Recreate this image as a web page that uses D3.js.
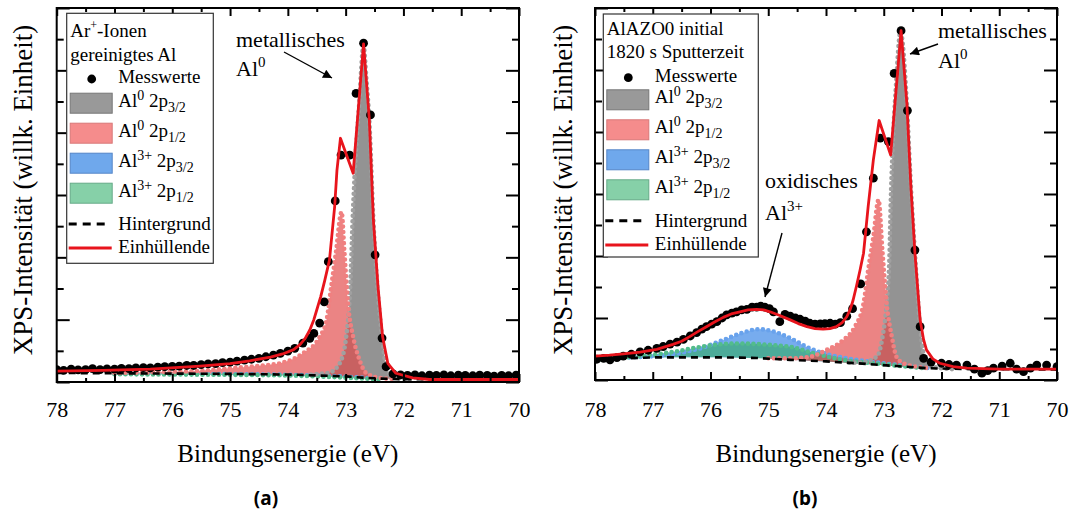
<!DOCTYPE html>
<html>
<head>
<meta charset="utf-8">
<script src="https://cdn.jsdelivr.net/npm/d3@7"></script>
<style>
body { margin: 0; background: #fff; }
svg { display: block; }
text { font-family: "Liberation Serif", "Times New Roman", serif; fill: #000; }
</style>
</head>
<body>
<svg width="1076" height="511"></svg>
<script>
// ---- data: [binding energy (eV), intensity (arb. units)] ----

// panel (a): Ar+-cleaned Al
var aMess = [[78.00,4.0],[77.88,3.7],[77.75,4.1],[77.63,3.9],[77.50,4.0],[77.38,4.3],[77.25,4.0],[77.13,4.2],
    [77.00,4.1],[76.88,4.4],[76.75,4.3],[76.63,4.5],[76.50,4.6],[76.38,4.5],[76.25,4.8],[76.13,4.9],
    [76.00,5.0],[75.88,5.1],[75.75,5.3],[75.63,5.3],[75.50,5.6],[75.38,5.8],[75.25,5.9],[75.13,6.2],
    [75.00,6.4],[74.88,6.7],[74.75,7.0],[74.63,7.3],[74.50,7.6],[74.38,8.1],[74.25,8.6],[74.13,9.2],
    [74.00,9.9],[73.88,10.8],[73.74,12.5],[73.62,14.0],[73.55,15.6],[73.45,18.9],[73.37,25.7],[73.30,38.6],
    [73.18,58.1],[73.08,72.8],[72.93,72.8],[72.82,92.6],[72.69,108.7],[72.57,85.7],[72.49,40.8],[72.37,14.1],
    [72.30,4.9],[72.18,2.6],[72.05,2.3],[71.93,2.1],[71.80,2.3],[71.68,2.0],[71.55,2.2],[71.43,2.1],
    [71.30,2.3],[71.18,2.0],[71.05,2.2],[70.93,2.1],[70.80,2.0],[70.68,2.2],[70.55,2.1],[70.43,1.9],
    [70.30,2.1],[70.18,2.0],[70.05,2.2]];
var aFit = [[78.00,3.5],[77.20,3.7],[76.38,4.1],[75.52,5.1],[75.00,5.9],[74.66,6.8],[74.30,8.0],[74.09,9.0],
    [73.90,10.4],[73.79,12.0],[73.70,14.0],[73.62,16.7],[73.55,20.0],[73.50,23.1],[73.43,27.5],[73.36,32.7],
    [73.28,39.1],[73.19,56.3],[73.15,68.0],[73.09,78.2],[72.87,67.0],[72.69,108.5],[72.59,84.1],[72.52,52.0],
    [72.44,30.6],[72.36,14.5],[72.27,6.0],[72.13,2.8],[71.84,1.3],[71.55,0.8],[70.00,0.8]];
var aBg = [[78.0,2.9],[77.0,2.8],[76.0,2.7],[75.0,2.6],[74.0,2.4],[73.5,2.1],[73.0,1.8],[72.7,1.4],
    [72.4,1.1],[72.0,0.9],[71.0,0.8],[70.0,0.8]];
var aAl0p32 = [[73.60,2.4],[73.40,2.7],[73.28,3.0],[73.10,6.1],[72.99,14.5],[72.92,30.6],[72.88,52.0],
    [72.84,68.0],[72.77,88.0],[72.69,108.0],[72.64,97.0],[72.59,84.0],[72.52,52.0],[72.45,30.5],
    [72.37,14.5],[72.30,4.9],[72.21,2.2],[72.00,1.0],[71.80,0.9]];
var aAl0p12 = [[77.00,2.9],[76.38,3.1],[75.52,3.6],[75.00,4.4],[74.50,5.2],[74.14,6.0],[73.74,9.2],
    [73.45,14.5],[73.33,19.9],[73.25,30.6],[73.17,41.3],[73.07,54.6],[73.02,41.4],[72.96,25.3],
    [72.87,14.5],[72.76,7.1],[72.64,2.8],[72.40,1.3],[72.20,1.0]];
var aAl3p32 = [[77.0,2.7],[76.0,2.6],[75.0,2.5],[74.0,2.3],[73.0,1.7],[72.4,1.0]];
var aAl3p12 = [[77.0,2.5],[76.0,2.4],[75.0,2.3],[74.0,2.1],[73.5,1.8],[73.0,1.4],[72.4,0.8]];

// panel (b): AlAZO0 initial, 1820 s sputter time
var bMess = [[77.97,6.7],[77.85,7.0],[77.74,6.5],[77.62,7.2],[77.51,7.7],[77.37,8.3],[77.22,9.1],[77.08,9.6],
    [76.93,10.2],[76.82,10.8],[76.70,11.6],[76.58,12.2],[76.47,13.1],[76.35,14.2],[76.24,15.3],[76.15,16.4],
    [76.07,17.2],[75.98,18.0],[75.89,18.8],[75.80,20.0],[75.72,21.0],[75.63,21.6],[75.55,22.0],[75.46,22.6],
    [75.37,22.8],[75.28,23.5],[75.20,23.5],[75.13,23.8],[75.06,23.5],[74.98,23.0],[74.91,22.0],[74.80,18.8],
    [74.71,21.2],[74.62,20.6],[74.53,20.0],[74.45,19.6],[74.36,19.0],[74.28,18.3],[74.19,18.0],[74.10,18.1],
    [74.02,18.2],[73.93,18.3],[73.84,18.0],[73.75,18.5],[73.64,20.6],[73.54,23.0],[73.40,31.0],[73.30,47.8],
    [73.18,65.1],[73.06,78.0],[72.92,76.9],[72.82,98.9],[72.70,112.7],[72.59,86.9],[72.46,41.9],[72.37,17.2],
    [72.31,7.0],[72.18,5.8],[72.00,5.4],[71.87,5.0],[71.74,4.8],[71.56,4.8],[71.43,3.5],[71.30,2.2],
    [71.20,3.0],[71.10,3.8],[70.95,4.5],[70.81,5.4],[70.70,3.5],[70.58,2.7],[70.46,3.8],[70.35,4.8],
    [70.18,4.8],[70.00,4.3]];
var bFit = [[78.00,7.7],[77.75,8.0],[77.51,8.4],[77.22,9.0],[76.93,9.9],[76.65,11.5],[76.50,12.5],[76.36,14.0],
    [76.22,15.6],[76.07,17.2],[75.93,18.7],[75.78,20.2],[75.64,21.3],[75.49,22.0],[75.35,22.6],[75.20,22.8],
    [75.08,22.6],[74.97,22.0],[74.80,20.8],[74.62,19.4],[74.48,18.2],[74.33,17.2],[74.19,16.6],[74.05,16.4],
    [73.93,16.6],[73.82,17.2],[73.72,18.5],[73.64,20.4],[73.58,22.8],[73.53,25.8],[73.47,30.5],[73.41,35.5],
    [73.35,40.9],[73.27,55.9],[73.18,71.0],[73.08,83.7],[72.88,72.6],[72.70,112.7],[72.60,89.3],[72.53,62.4],
    [72.46,40.9],[72.37,19.4],[72.31,13.0],[72.26,9.7],[72.15,6.8],[72.03,5.4],[71.80,4.3],[71.56,3.8],
    [71.00,3.5],[70.00,3.5]];
var bBg = [[78.00,6.5],[77.50,7.0],[76.93,7.3],[75.78,7.3],[75.20,7.1],[74.62,6.5],[74.00,6.0],[73.47,5.4],
    [72.78,4.5],[72.26,3.8],[71.50,3.5],[70.00,3.4]];
var bAl0p32 = [[73.60,5.6],[73.41,5.6],[73.12,7.5],[73.02,14.0],[72.95,24.7],[72.90,40.9],[72.88,57.0],
    [72.85,73.1],[72.79,94.6],[72.71,112.4],[72.60,89.3],[72.53,62.4],[72.46,40.9],[72.38,19.4],
    [72.31,8.6],[72.20,4.8],[72.00,3.8],[71.80,3.5]];
var bAl0p12 = [[75.00,7.0],[74.62,7.0],[74.28,7.5],[73.99,9.7],[73.70,12.9],[73.50,17.2],[73.35,24.7],
    [73.27,35.5],[73.18,46.2],[73.09,58.1],[73.02,40.9],[72.95,24.7],[72.86,14.0],[72.78,7.5],
    [72.66,5.4],[72.40,4.2],[72.20,3.8]];
var bAl3p32 = [[77.50,7.2],[77.22,7.4],[76.64,8.4],[76.18,10.2],[75.78,12.9],[75.45,15.2],[75.17,16.4],
    [74.90,15.6],[74.62,13.5],[74.28,10.2],[73.93,8.1],[73.47,6.5],[73.01,5.4],[72.60,4.5],[72.20,3.8]];
var bAl3p12 = [[78.00,6.6],[77.74,7.0],[77.22,7.7],[76.64,9.1],[76.20,10.6],[75.90,11.4],[75.60,11.8],
    [75.30,11.7],[74.95,11.3],[74.62,10.7],[74.16,8.4],[73.70,6.5],[73.18,5.4],[72.70,4.5],[72.30,3.8]];

// ticks
var xMajor = [78, 77, 76, 75, 74, 73, 72, 71, 70];
var xMinor = [77.5, 76.5, 75.5, 74.5, 73.5, 72.5, 71.5, 70.5];
var yMajor = [0, 20, 40, 60, 80, 100, 120];
var yMinor = [10, 30, 50, 70, 90, 110];

// legend
var compSup = ['0', '0', '3+', '3+'];
var compSub = ['3/2', '1/2', '3/2', '1/2'];
var compFill = ['#8a8a8a', '#e24a4a', '#4a90e8', '#3caa78'];
var compAlpha = [0.92, 0.68, 0.75, 0.72];
var compDots = ['#a0a0a0', '#f08080', '#68a2ec', '#52bc8c'];
var swatchFill = ['#999999', '#f58c8c', '#6fa8ec', '#86d0a8'];
var swatchStroke = ['#777777', '#d87878', '#5585c8', '#66aa88'];

var svg = d3.select('svg');

var defs = svg.append('defs');
defs.append('marker')
    .attr('id', 'arrow')
    .attr('viewBox', '0 0 10 10')
    .attr('refX', 10).attr('refY', 5)
    .attr('markerWidth', 13).attr('markerHeight', 9)
    .attr('markerUnits', 'userSpaceOnUse')
    .attr('orient', 'auto')
    .append('path').attr('d', 'M0,0L10,5L0,10z').attr('fill', '#000');

var panels = [
    {left: 56.7, right: 519, top: 8, bottom: 382,
     mess: aMess, fit: aFit, bg: aBg, comps: [aAl0p32, aAl0p12, aAl3p32, aAl3p12],
     titles: [['Ar', '+', '-Ionen'], ['gereinigtes Al']],
     box: {x: 66.7, y: 13.3, w: 146.6, h: 250},
     rows: {t: [23.4, 47.4], mess: 69.7, comps: [93.4, 123.4, 153.4, 183.4], bg: 216.7, fit: 239.7},
     yLabelX: 32, label: '(a)', labelX: 266,
     notes: [{x: 236, y: 47, t: 'metallisches'}, {x: 236, y: 76, t: 'Al', sup: '0'}],
     arrows: [[284, 52, 332, 78]]},
    {left: 595, right: 1057, top: 8, bottom: 380,
     mess: bMess, fit: bFit, bg: bBg, comps: [bAl0p32, bAl0p12, bAl3p32, bAl3p12],
     titles: [['AlAZO0 initial'], ['1820 s Sputterzeit']],
     box: {x: 603.3, y: 14, w: 155, h: 243},
     rows: {t: [21, 44.3], mess: 67.7, comps: [89.3, 119.3, 149.3, 179.3], bg: 212.7, fit: 236},
     yLabelX: 572, label: '(b)', labelX: 805,
     notes: [{x: 938, y: 38, t: 'metallisches'}, {x: 938, y: 68, t: 'Al', sup: '0'},
             {x: 765, y: 188, t: 'oxidisches'}, {x: 765, y: 220, t: 'Al', sup: '3+'}],
     arrows: [[938, 44, 910, 54], [782, 233, 765, 297]]}
];

panels.forEach(drawPanel);

function drawPanel(p) {
    var g = svg.append('g');

    var x = d3.scaleLinear().domain([78, 70]).range([p.left, p.right]);
    var y = d3.scaleLinear().domain([0, 120]).range([p.bottom, p.top]);

    // background as a piecewise-linear lookup, lower edge of the component fills
    var bgAt = d3.scaleLinear()
        .domain(p.bg.map(function(d) { return d[0]; }))
        .range(p.bg.map(function(d) { return d[1]; }))
        .clamp(true);

    var clipId = 'clip' + p.label.charAt(1);
    defs.append('clipPath').attr('id', clipId)
        .append('rect')
        .attr('x', p.left).attr('y', p.top)
        .attr('width', p.right - p.left).attr('height', p.bottom - p.top);

    var plot = g.append('g').attr('clip-path', 'url(#' + clipId + ')');

    var area = d3.area()
        .x(function(d) { return x(d[0]); })
        .y0(function(d) { return y(bgAt(d[0])); })
        .y1(function(d) { return y(d[1]); })
        .curve(d3.curveMonotoneX);
    var line = d3.line()
        .x(function(d) { return x(d[0]); })
        .y(function(d) { return y(d[1]); });

    // draw order: Al3+ 2p3/2, Al3+ 2p1/2, Al0 2p3/2, Al0 2p1/2
    var order = [2, 3, 0, 1];
    order.forEach(function(i) {
        plot.append('path')
            .attr('d', area(p.comps[i]))
            .attr('fill', compFill[i])
            .attr('fill-opacity', compAlpha[i]);
    });
    order.forEach(function(i) {
        plot.append('path')
            .attr('d', line.curve(d3.curveMonotoneX)(p.comps[i]))
            .attr('fill', 'none')
            .attr('stroke', compDots[i])
            .attr('stroke-width', 4.6)
            .attr('stroke-linecap', 'round')
            .attr('stroke-dasharray', '0 5.5');
    });

    // background
    plot.append('path')
        .attr('d', line.curve(d3.curveLinear)(p.bg))
        .attr('fill', 'none')
        .attr('stroke', '#000')
        .attr('stroke-width', 2.6)
        .attr('stroke-dasharray', '7 5');

    // measured points
    plot.selectAll('.dot')
        .data(p.mess)
        .enter().append('circle')
        .attr('class', 'dot')
        .attr('cx', function(d) { return x(d[0]); })
        .attr('cy', function(d) { return y(d[1]); })
        .attr('r', 4.4)
        .attr('fill', '#000');

    // envelope
    plot.append('path')
        .attr('d', line.curve(d3.curveLinear)(p.fit))
        .attr('fill', 'none')
        .attr('stroke', '#e8141c')
        .attr('stroke-width', 2.8)
        .attr('stroke-linejoin', 'round');

    // axes, ticks pointing inwards on all four sides
    function styleAxis(sel) {
        sel.select('.domain').remove();
        sel.selectAll('.tick line').attr('stroke', '#000').attr('stroke-width', 2);
        sel.attr('font-family', '"Liberation Serif", "Times New Roman", serif').attr('font-size', 22);
    }
    var fmt = d3.format('d');
    var labelPad = 417 - p.bottom - 15.6;

    g.append('g').attr('transform', 'translate(0,' + p.bottom + ')')
        .call(d3.axisBottom(x).tickValues(xMajor).tickSize(-8).tickPadding(labelPad).tickFormat(fmt))
        .call(styleAxis);
    g.append('g').attr('transform', 'translate(0,' + p.bottom + ')')
        .call(d3.axisBottom(x).tickValues(xMinor).tickSize(-4).tickFormat(''))
        .call(styleAxis);
    g.append('g').attr('transform', 'translate(0,' + p.top + ')')
        .call(d3.axisTop(x).tickValues(xMajor).tickSize(-8).tickFormat(''))
        .call(styleAxis);
    g.append('g').attr('transform', 'translate(0,' + p.top + ')')
        .call(d3.axisTop(x).tickValues(xMinor).tickSize(-4).tickFormat(''))
        .call(styleAxis);
    g.append('g').attr('transform', 'translate(' + p.left + ',0)')
        .call(d3.axisLeft(y).tickValues(yMajor).tickSize(-13).tickFormat(''))
        .call(styleAxis);
    g.append('g').attr('transform', 'translate(' + p.left + ',0)')
        .call(d3.axisLeft(y).tickValues(yMinor).tickSize(-7).tickFormat(''))
        .call(styleAxis);
    g.append('g').attr('transform', 'translate(' + p.right + ',0)')
        .call(d3.axisRight(y).tickValues(yMajor).tickSize(-13).tickFormat(''))
        .call(styleAxis);
    g.append('g').attr('transform', 'translate(' + p.right + ',0)')
        .call(d3.axisRight(y).tickValues(yMinor).tickSize(-7).tickFormat(''))
        .call(styleAxis);

    g.append('rect')
        .attr('x', p.left).attr('y', p.top)
        .attr('width', p.right - p.left).attr('height', p.bottom - p.top)
        .attr('fill', 'none').attr('stroke', '#000').attr('stroke-width', 2);

    // axis titles
    g.append('text')
        .attr('x', (p.left + p.right) / 2).attr('y', 462)
        .attr('text-anchor', 'middle').attr('font-size', 25)
        .text('Bindungsenergie (eV)');
    g.append('text')
        .attr('transform', 'translate(' + p.yLabelX + ',' + 190 + ') rotate(-90)')
        .attr('text-anchor', 'middle').attr('font-size', 27)
        .text('XPS-Intensität (willk. Einheit)');

    // sub-figure label
    g.append('text')
        .attr('x', p.labelX).attr('y', 505)
        .attr('text-anchor', 'middle')
        .style('font-family', '"Noto Sans", "DejaVu Sans", sans-serif')
        .attr('font-size', 19).attr('font-weight', 700)
        .text(p.label);

    // annotations
    p.notes.forEach(function(n) {
        var t = g.append('text').attr('x', n.x).attr('y', n.y).attr('font-size', 22);
        t.append('tspan').text(n.t);
        if (n.sup) t.append('tspan').attr('font-size', 15).attr('baseline-shift', 9).text(n.sup);
    });
    p.arrows.forEach(function(a) {
        g.append('line')
            .attr('x1', a[0]).attr('y1', a[1]).attr('x2', a[2]).attr('y2', a[3])
            .attr('stroke', '#000').attr('stroke-width', 1.4)
            .attr('marker-end', 'url(#arrow)');
    });

    drawLegend(g, p);
}

function drawLegend(g, p) {
    var b = p.box;
    var lg = g.append('g').attr('transform', 'translate(' + b.x + ',' + b.y + ')');
    lg.append('rect')
        .attr('width', b.w).attr('height', b.h)
        .attr('fill', '#fff').attr('stroke', '#333').attr('stroke-width', 1.2);

    var fs = 19;
    var tx = 51.5;

    p.titles.forEach(function(parts, i) {
        var t = lg.append('text').attr('x', 3.5).attr('y', p.rows.t[i]).attr('font-size', fs);
        t.append('tspan').text(parts[0]);
        if (parts.length > 1) {
            t.append('tspan').attr('font-size', 12).attr('baseline-shift', 8).text(parts[1]);
            t.append('tspan').text(parts[2]);
        }
    });

    lg.append('circle').attr('cx', 25).attr('cy', p.rows.mess - 4).attr('r', 4.4).attr('fill', '#000');
    lg.append('text').attr('x', tx).attr('y', p.rows.mess).attr('font-size', fs).text('Messwerte');

    p.rows.comps.forEach(function(ry, i) {
        lg.append('rect')
            .attr('x', 3.5).attr('y', ry - 13.5)
            .attr('width', 42).attr('height', 20)
            .attr('fill', swatchFill[i]).attr('stroke', swatchStroke[i]).attr('stroke-width', 1);
        var t = lg.append('text').attr('x', tx).attr('y', ry).attr('font-size', fs);
        t.append('tspan').text('Al');
        t.append('tspan').attr('font-size', 14).attr('baseline-shift', 7).text(compSup[i]);
        t.append('tspan').text('\u00a02p');
        t.append('tspan').attr('font-size', 14).attr('baseline-shift', -5).text(compSub[i]);
    });

    lg.append('line')
        .attr('x1', 2).attr('x2', 43).attr('y1', p.rows.bg - 6).attr('y2', p.rows.bg - 6)
        .attr('stroke', '#000').attr('stroke-width', 3).attr('stroke-dasharray', '8 6');
    lg.append('text').attr('x', tx).attr('y', p.rows.bg).attr('font-size', fs).text('Hintergrund');

    lg.append('line')
        .attr('x1', 2).attr('x2', 45).attr('y1', p.rows.fit - 5).attr('y2', p.rows.fit - 5)
        .attr('stroke', '#e8141c').attr('stroke-width', 3);
    lg.append('text').attr('x', tx).attr('y', p.rows.fit).attr('font-size', fs).text('Einhüllende');
}
</script>
</body>
</html>
